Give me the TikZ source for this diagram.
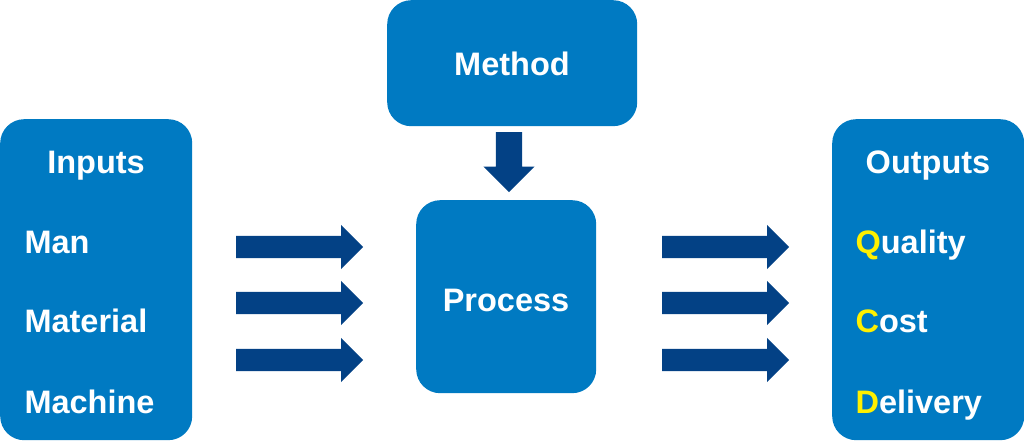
\documentclass[tikz,border=0pt]{standalone}
\usepackage{fontspec}
\setmainfont{Liberation Sans}
\usetikzlibrary{positioning, shapes.arrows}

\definecolor{boxblue}{RGB}{0,122,194}
\definecolor{arrowblue}{RGB}{3,65,133}
\definecolor{qcdyellow}{RGB}{255,240,0}

\begin{document}
\begin{tikzpicture}[
		x=1pt, y=-1pt,
		every node/.style={font=\fontsize{32.5}{38}\selectfont\bfseries, text=white},
		panel/.style={
			rectangle,
			rounded corners=24pt,
			fill=boxblue,
			inner sep=0pt,
			anchor=north west
		},
		fatarrow/.style={
			single arrow,
			fill=arrowblue,
			inner xsep=0pt,
			inner ysep=11pt,
			minimum height=127pt,
			minimum width=44pt,
			single arrow head extend=11pt,
			anchor=west
		}
		]
		\useasboundingbox (0,0) rectangle (1024,441);
		
		% Boxes
		\node[panel, minimum width=192pt, minimum height=321pt] (inputs) at (0,119) {};
		\node[panel, minimum width=250pt, minimum height=126pt] (method) at (387,0) {};
		\node[panel, minimum width=180pt, minimum height=193pt] (process) at (416,200) {};
		\node[panel, minimum width=192pt, minimum height=321pt] (outputs) at (832,119) {};
		
		% Texts
		\node[anchor=base] (inputstitle) at (96,173) {Inputs};
		\node[anchor=base west] (man) at (21,253) {Man};
		\node[anchor=base west] (material) at (21,332) {Material};
		\node[anchor=base west] (machine) at (21,413) {Machine};
		
		\node[anchor=base] (methodtext) at (512,76) {Method};
		\node[anchor=base] (processtext) at (506,311) {Process};
		
		\node[anchor=base] (outputstitle) at (928,173) {Outputs};
		\node[anchor=base west] (quality) at (852,253) {{\color{qcdyellow}Q}uality};
		\node[anchor=base west] (cost) at (852,332) {{\color{qcdyellow}C}ost};
		\node[anchor=base west] (delivery) at (852,413) {{\color{qcdyellow}D}elivery};
		
		% Block arrows
		\node[fatarrow, rotate=-90, minimum height=60pt, minimum width=51pt,
			inner ysep=13pt, single arrow head extend=12.5pt] (downarrow) at (509,132) {};
		
		\node[fatarrow] (inarrowa) at (236,247) {};
		\node[fatarrow] (inarrowb) at (236,303) {};
		\node[fatarrow] (inarrowc) at (236,360) {};
		
		\node[fatarrow] (outarrowa) at (662,247) {};
		\node[fatarrow] (outarrowb) at (662,303) {};
		\node[fatarrow] (outarrowc) at (662,360) {};
		
	\end{tikzpicture}
\end{document}
